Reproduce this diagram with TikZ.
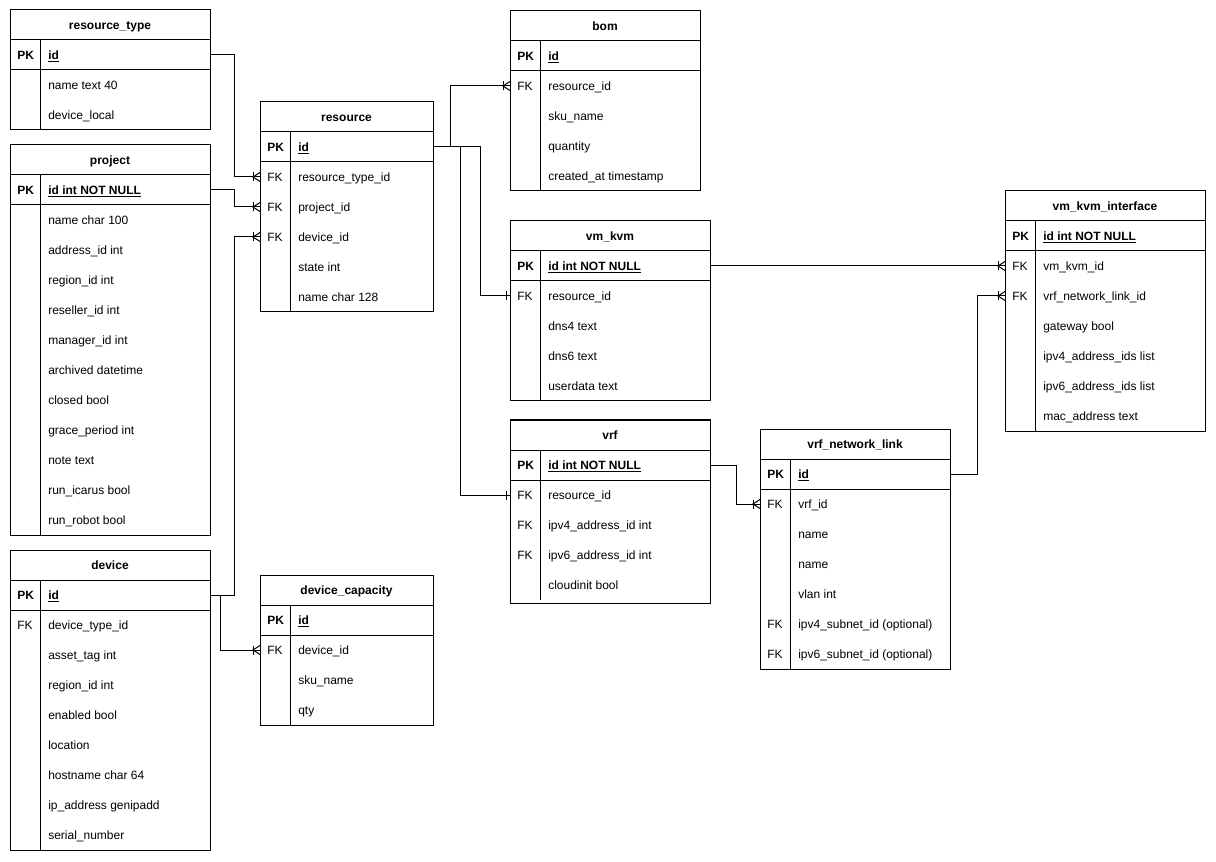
\documentclass[tikz,border=0pt]{standalone}
\usepackage{fontspec}
\setmainfont{Liberation Sans}
\usetikzlibrary{calc}
\newcommand{\pkfield}[1]{\textbf{\underline{#1}}}
\newcommand{\ertable}[8]{%
  \pgfmathsetmacro{\tabh}{30*(#5+1)+#6}
  \node[tabframe, minimum width=#4*0.75pt, minimum height=\tabh*0.75pt, anchor=north west] (#1) at (#2,#3) {};
  \node[titletxt] (#1-t) at ({#2+#4/2},{#3+19.2}) {#7};
  \foreach \k/\f [count=\i] in {#8} {
    \node[rowbox, minimum width=#4*0.75pt, anchor=north west] (#1-\i) at (#2,{#3+30*\i}) {};
    \node[keytxt] (#1-\i-k) at ({#2+7},{#3+30*\i+19.2}) {\k};
    \node[fldtxt] (#1-\i-f) at ({#2+38},{#3+30*\i+19.2}) {\f};
  }
  \draw[ln] (#2,{#3+30}) -- ++(#4,0) (#2,{#3+60}) -- ++(#4,0)
    ({#2+30},{#3+30}) -- ({#2+30},{#3+30*(#5+1)});
}
\newcommand{\manyend}[1]{%
  \draw[ln] ($(#1)+(-7,-4.5)$) -- ($(#1)+(-7,4.5)$);
  \draw[ln] ($(#1)+(0,-4.5)$) -- ($(#1)+(-7,0)$) -- ($(#1)+(0,4.5)$);
}
\newcommand{\oneend}[1]{%
  \draw[ln] ($(#1)+(-4,-4.5)$) -- ($(#1)+(-4,4.5)$);
}
\begin{document}
\begin{tikzpicture}[x=0.75pt,y=-0.75pt,
  ln/.style={line width=0.75pt,black},
  tabframe/.style={draw=black,line width=0.75pt,fill=white,rectangle,inner sep=0pt,outer sep=0pt},
  rowbox/.style={rectangle,inner sep=0pt,outer sep=0pt,minimum height=22.5pt},
  titletxt/.style={anchor=base,inner sep=0pt,font=\fontsize{9}{11}\selectfont\bfseries},
  keytxt/.style={anchor=base west,inner sep=0pt,font=\fontsize{9}{11}\selectfont},
  fldtxt/.style={anchor=base west,inner sep=0pt,font=\fontsize{9}{11}\selectfont}]
\fill[white] (0,0) rectangle (1216,862);
\useasboundingbox (0,0) rectangle (1216,862);

\ertable{rt}{10}{10}{200}{3}{0}{resource\_type}{{\textbf{PK}}/{\pkfield{id}}, {}/{name text 40}, {}/{device\_local}}
\ertable{proj}{10}{145}{200}{12}{0}{project}{{\textbf{PK}}/{\pkfield{id int NOT NULL}}, {}/{name char 100}, {}/{address\_id int}, {}/{region\_id int}, {}/{reseller\_id int}, {}/{manager\_id int}, {}/{archived datetime}, {}/{closed bool}, {}/{grace\_period int}, {}/{note text}, {}/{run\_icarus bool}, {}/{run\_robot bool}}
\ertable{dev}{10}{550}{200}{9}{0}{device}{{\textbf{PK}}/{\pkfield{id}}, {FK}/{device\_type\_id}, {}/{asset\_tag int}, {}/{region\_id int}, {}/{enabled bool}, {}/{location}, {}/{hostname char 64}, {}/{ip\_address genipadd}, {}/{serial\_number}}
\ertable{res}{260}{102}{173}{6}{0}{resource}{{\textbf{PK}}/{\pkfield{id}}, {FK}/{resource\_type\_id}, {FK}/{project\_id}, {FK}/{device\_id}, {}/{state int}, {}/{name char 128}}
\ertable{dc}{260}{575}{173}{4}{0}{device\_capacity}{{\textbf{PK}}/{\pkfield{id}}, {FK}/{device\_id}, {}/{sku\_name}, {}/{qty}}
\ertable{bom}{510}{11}{190}{5}{0}{bom}{{\textbf{PK}}/{\pkfield{id}}, {FK}/{resource\_id}, {}/{sku\_name}, {}/{quantity}, {}/{created\_at timestamp}}
\ertable{vmk}{510}{221}{200}{5}{0}{vm\_kvm}{{\textbf{PK}}/{\pkfield{id int NOT NULL}}, {FK}/{resource\_id}, {}/{dns4 text}, {}/{dns6 text}, {}/{userdata text}}
\ertable{vrf}{510}{420}{200}{5}{3}{vrf}{{\textbf{PK}}/{\pkfield{id int NOT NULL}}, {FK}/{resource\_id}, {FK}/{ipv4\_address\_id int}, {FK}/{ipv6\_address\_id int}, {}/{cloudinit bool}}
\ertable{vnl}{760}{429}{190}{7}{0}{vrf\_network\_link}{{\textbf{PK}}/{\pkfield{id}}, {FK}/{vrf\_id}, {}/{name}, {}/{name}, {}/{vlan int}, {FK}/{ipv4\_subnet\_id (optional)}, {FK}/{ipv6\_subnet\_id (optional)}}
\ertable{vki}{1005}{191}{200}{7}{0}{vm\_kvm\_interface}{{\textbf{PK}}/{\pkfield{id int NOT NULL}}, {FK}/{vm\_kvm\_id}, {FK}/{vrf\_network\_link\_id}, {}/{gateway bool}, {}/{ipv4\_address\_ids list}, {}/{ipv6\_address\_ids list}, {}/{mac\_address text}}

% connectors
\draw[ln] (rt-1.east) -- ++(24,0) |- (res-2.west);
\draw[ln] (proj-1.east) -- ++(24,0) |- (res-3.west);
\draw[ln] (dev-1.east) -- ++(24,0) |- (res-4.west);
\draw[ln] (dev-1.east) -- ++(10,0) |- (dc-2.west);
\draw[ln] (res-1.east) -- ++(17,0) |- (bom-2.west);
\draw[ln] (res-1.east) -- ++(27,0) |- (vrf-2.west);
\draw[ln] (res-1.east) -- ++(47,0) |- (vmk-2.west);
\draw[ln] (vmk-1.east) -- (vki-2.west);
\draw[ln] (vrf-1.east) -- ++(26,0) |- (vnl-2.west);
\draw[ln] (vnl-1.east) -- ++(27,0) |- (vki-3.west);

\manyend{res-2.west}
\manyend{res-3.west}
\manyend{res-4.west}
\manyend{dc-2.west}
\manyend{bom-2.west}
\manyend{vki-2.west}
\manyend{vnl-2.west}
\manyend{vki-3.west}
\oneend{vrf-2.west}
\oneend{vmk-2.west}
\end{tikzpicture}
\end{document}
